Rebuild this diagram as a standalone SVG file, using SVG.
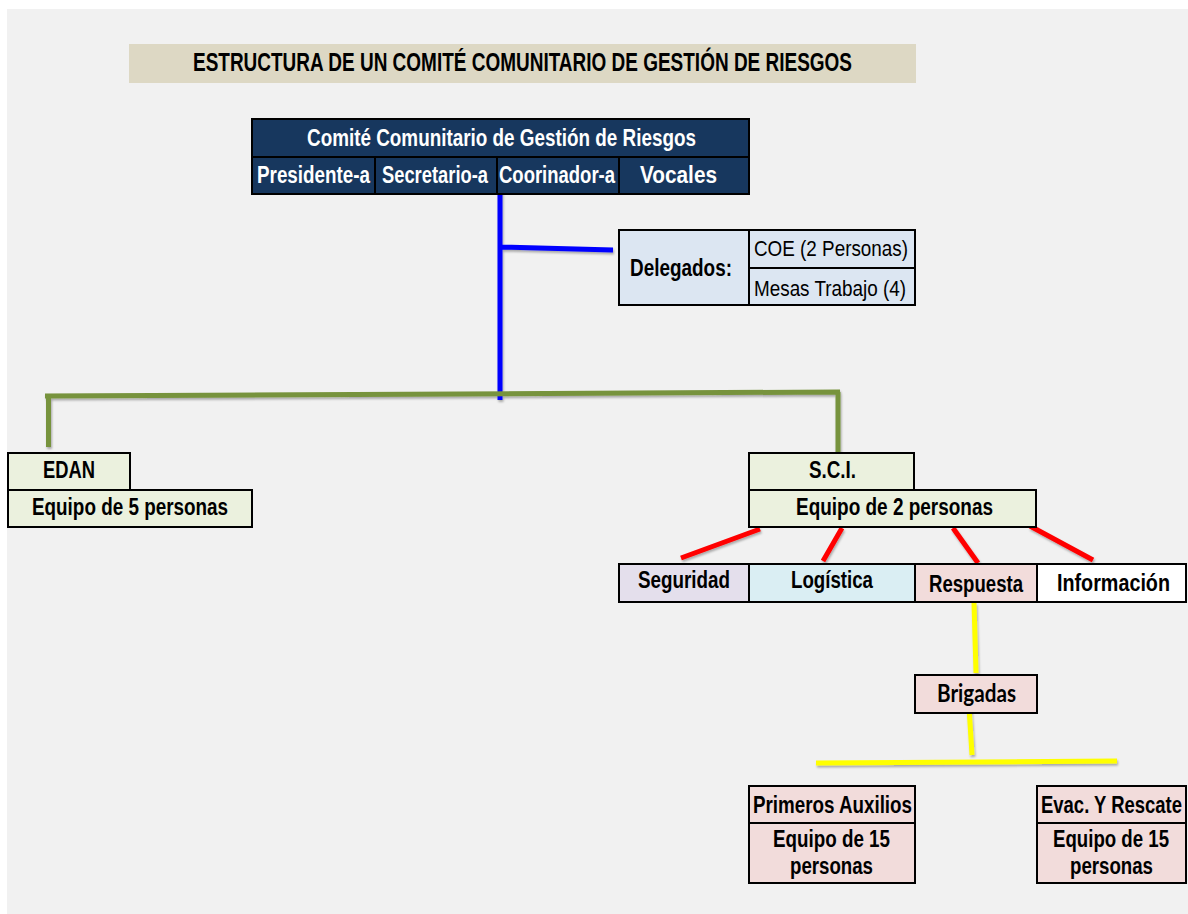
<svg xmlns="http://www.w3.org/2000/svg" width="1188" height="914" viewBox="0 0 1188 914">
<style>
.t{font-family:"Liberation Sans",Arial,sans-serif;font-weight:bold;fill:#000}
.w{fill:#fff}
.n{font-weight:normal}
.box{stroke:#000;stroke-width:2}
.navy{fill:#17375e}
.green{fill:#ebf1de}
.pink{fill:#f2dcdb}
.ln{fill:none;stroke-width:5;stroke-linecap:butt}
</style>
<defs>
<filter id="sh" x="-5%" y="-50%" width="110%" height="200%">
<feDropShadow dx="1" dy="2" stdDeviation="1.2" flood-color="#000" flood-opacity="0.3"/>
</filter>
</defs>
<rect x="0" y="0" width="1188" height="914" fill="#fff"/>
<rect x="7" y="9" width="1181" height="905" fill="#f1f1f1"/>

<g id="title">
<rect x="129" y="44" width="787" height="39" fill="#ddd8c4"/>
<text class="t" x="193" y="71" font-size="25" textLength="659" lengthAdjust="spacingAndGlyphs">ESTRUCTURA DE UN COMITÉ COMUNITARIO DE GESTIÓN DE RIESGOS</text>
</g>

<g id="connectors" filter="url(#sh)">
<path class="ln" stroke="#0000ff" d="M500,180 V400 M500,247 L613,250"/>
<path class="ln" stroke="#77933c" d="M45,396 L840,392 M48.5,396 V447 M838,392 V453"/>
<path class="ln" stroke="#ff0000" d="M760,529 L681,558 M842,528 L823,561 M953,528 L978,563 M1030,526 L1093,560"/>
<path class="ln" stroke="#ffff00" d="M974,603 L976,673 M969,707 L972,755 M816,763 L1117,761"/>
</g>

<g id="comite">
<rect class="box navy" x="252" y="119" width="497" height="38"/>
<rect class="box navy" x="252" y="157" width="123" height="37"/>
<rect class="box navy" x="375" y="157" width="122" height="37"/>
<rect class="box navy" x="497" y="157" width="122" height="37"/>
<rect class="box navy" x="619" y="157" width="130" height="37"/>
<text class="t w" x="307" y="146" font-size="24" textLength="389" lengthAdjust="spacingAndGlyphs">Comité Comunitario de Gestión de Riesgos</text>
<text class="t w" x="257" y="183" font-size="23" textLength="113" lengthAdjust="spacingAndGlyphs">Presidente-a</text>
<text class="t w" x="382" y="183" font-size="23" textLength="106" lengthAdjust="spacingAndGlyphs">Secretario-a</text>
<text class="t w" x="499" y="183" font-size="23" textLength="116" lengthAdjust="spacingAndGlyphs">Coorinador-a</text>
<text class="t w" x="640" y="183" font-size="23" textLength="77" lengthAdjust="spacingAndGlyphs">Vocales</text>
</g>

<g id="delegados">
<rect class="box" x="619" y="230" width="130" height="75" fill="#dce6f2"/>
<rect class="box" x="749" y="230" width="166" height="38" fill="#dce6f2"/>
<rect class="box" x="749" y="268" width="166" height="37" fill="#dce6f2"/>
<text class="t" x="630" y="276" font-size="23" textLength="102" lengthAdjust="spacingAndGlyphs">Delegados:</text>
<text class="t n" x="754" y="256" font-size="22" textLength="154" lengthAdjust="spacingAndGlyphs">COE (2 Personas)</text>
<text class="t n" x="754" y="296" font-size="22" textLength="152" lengthAdjust="spacingAndGlyphs">Mesas Trabajo (4)</text>
</g>

<g id="edan">
<rect class="box green" x="8" y="453" width="122" height="37"/>
<rect class="box green" x="8" y="490" width="244" height="37"/>
<text class="t" x="43" y="478" font-size="23" textLength="52" lengthAdjust="spacingAndGlyphs">EDAN</text>
<text class="t" x="32" y="515" font-size="23" textLength="196" lengthAdjust="spacingAndGlyphs">Equipo de 5 personas</text>
</g>

<g id="sci">
<rect class="box green" x="749" y="453" width="165" height="37"/>
<rect class="box green" x="749" y="490" width="287" height="37"/>
<text class="t" x="809" y="478" font-size="23" textLength="47" lengthAdjust="spacingAndGlyphs">S.C.I.</text>
<text class="t" x="796" y="515" font-size="23" textLength="197" lengthAdjust="spacingAndGlyphs">Equipo de 2 personas</text>
</g>

<g id="seguridad">
<rect class="box" x="619" y="564" width="130" height="38" fill="#e4dfec"/>
<text class="t" x="638" y="588" font-size="23" textLength="92" lengthAdjust="spacingAndGlyphs">Seguridad</text>
</g>
<g id="logistica">
<rect class="box" x="749" y="564" width="166" height="38" fill="#daeef3"/>
<text class="t" x="791" y="588" font-size="23" textLength="82" lengthAdjust="spacingAndGlyphs">Logística</text>
</g>
<g id="respuesta">
<rect class="box pink" x="915" y="564" width="122" height="38"/>
<text class="t" x="929" y="592" font-size="23" textLength="94" lengthAdjust="spacingAndGlyphs">Respuesta</text>
</g>
<g id="informacion">
<rect class="box" x="1037" y="564" width="149" height="38" fill="#fff"/>
<text class="t" x="1057" y="591" font-size="23" textLength="113" lengthAdjust="spacingAndGlyphs">Información</text>
</g>

<g id="brigadas">
<rect class="box pink" x="915" y="675" width="122" height="38"/>
<text x="937" y="702" font-family="Lato,'Open Sans',sans-serif" font-weight="bold" font-size="24" textLength="79" lengthAdjust="spacingAndGlyphs">Brigadas</text>
</g>

<g id="primeros">
<rect class="box pink" x="749" y="786" width="166" height="37"/>
<rect class="box pink" x="749" y="823" width="166" height="60"/>
<text class="t" x="753" y="813" font-size="23" textLength="159" lengthAdjust="spacingAndGlyphs">Primeros Auxilios</text>
<text class="t" x="773" y="847" font-size="23" textLength="117" lengthAdjust="spacingAndGlyphs">Equipo de 15</text>
<text class="t" x="790" y="874" font-size="23" textLength="83" lengthAdjust="spacingAndGlyphs">personas</text>
</g>

<g id="evac">
<rect class="box pink" x="1037" y="786" width="149" height="37"/>
<rect class="box pink" x="1037" y="823" width="149" height="60"/>
<text class="t" x="1041" y="813" font-size="23" textLength="141" lengthAdjust="spacingAndGlyphs">Evac. Y Rescate</text>
<text class="t" x="1053" y="847" font-size="23" textLength="116" lengthAdjust="spacingAndGlyphs">Equipo de 15</text>
<text class="t" x="1070" y="874" font-size="23" textLength="83" lengthAdjust="spacingAndGlyphs">personas</text>
</g>
</svg>
